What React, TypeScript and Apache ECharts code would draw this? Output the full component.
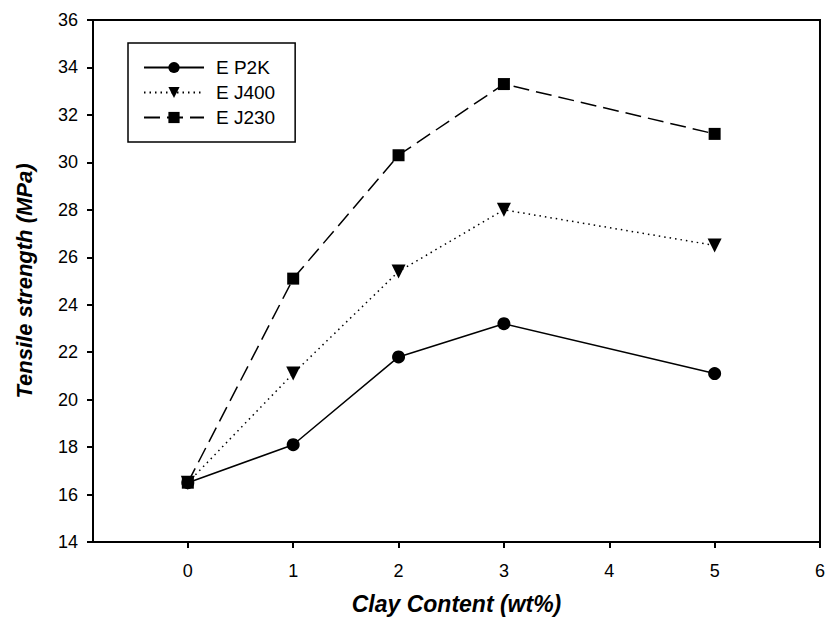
import React, { useEffect, useRef } from "react";
import * as echarts from "echarts";

const xValues = [0, 1, 2, 3, 5];
const seriesNames = ["E P2K", "E J400", "E J230"];
const p2k = [16.5, 18.1, 21.8, 23.2, 21.1];
const j400 = [16.5, 21.1, 25.4, 28.0, 26.5];
const j230 = [16.5, 25.1, 30.3, 33.3, 31.2];
const xTicks = [0, 1, 2, 3, 4, 5, 6];

export default function App() {
  const ref = useRef<HTMLDivElement>(null);
  useEffect(() => {
    if (!ref.current) return;
    const chart = echarts.init(ref.current, null, { renderer: "svg" });
    const font = "Liberation Sans, Arial, sans-serif";
    const mk = (vals: number[]) => xValues.map((x, i) => [x, vals[i]]);
    chart.setOption({
      animation: false,
      textStyle: { fontFamily: font },
      grid: { left: 93, top: 20, right: 6, bottom: 76, show: true, borderColor: "#000", borderWidth: 2, containLabel: false },
      legend: {
        left: 128,
        top: 43,
        orient: "vertical",
        borderColor: "#000",
        borderWidth: 1.5,
        padding: [15, 20, 15, 15],
        itemWidth: 60,
        itemHeight: 14,
        itemGap: 6,
        textStyle: { fontSize: 19, color: "#000", fontFamily: font, padding: [0, 0, 0, 7] },
        data: seriesNames,
      },
      xAxis: {
        type: "value",
        min: -0.9,
        max: 6,
        name: "Clay Content (wt%)",
        nameLocation: "middle",
        nameGap: 50,
        nameTextStyle: { fontSize: 23, fontWeight: "bold", fontStyle: "italic", color: "#000", fontFamily: font },
        axisLine: { show: true, onZero: false, lineStyle: { color: "#000", width: 2 } },
        axisTick: { show: true, inside: false, length: 6, lineStyle: { color: "#000", width: 2 }, customValues: xTicks },
        axisLabel: { fontSize: 18, color: "#000", margin: 20, customValues: xTicks, fontFamily: font },
        splitLine: { show: false },
      },
      yAxis: {
        type: "value",
        min: 14,
        max: 36,
        interval: 2,
        name: "Tensile strength (MPa)",
        nameLocation: "middle",
        nameGap: 58,
        nameTextStyle: { fontSize: 22, fontWeight: "bold", fontStyle: "italic", color: "#000", fontFamily: font },
        axisLine: { show: true, onZero: false, lineStyle: { color: "#000", width: 2 } },
        axisTick: { show: true, inside: false, length: 6, lineStyle: { color: "#000", width: 2 } },
        axisLabel: { fontSize: 18, color: "#000", margin: 15, fontFamily: font },
        splitLine: { show: false },
      },
      series: [
        {
          name: seriesNames[0],
          type: "line",
          data: mk(p2k),
          symbol: "circle",
          symbolSize: 13,
          itemStyle: { color: "#000" },
          lineStyle: { color: "#000", width: 1.5, type: "solid" },
          z: 4,
        },
        {
          name: seriesNames[1],
          type: "line",
          data: mk(j400),
          symbol: "triangle",
          symbolRotate: 180,
          symbolSize: 14,
          itemStyle: { color: "#000" },
          lineStyle: { color: "#000", width: 1.5, type: [1.5, 4] },
          z: 3,
        },
        {
          name: seriesNames[2],
          type: "line",
          data: mk(j230),
          symbol: "rect",
          symbolSize: 12,
          itemStyle: { color: "#000" },
          lineStyle: { color: "#000", width: 1.5, type: [16, 7] },
          z: 5,
        },
      ],
    });
    return () => chart.dispose();
  }, []);
  return <div ref={ref} style={{ width: 828, height: 620, position: "absolute", left: 0, top: 0 }} />;
}
